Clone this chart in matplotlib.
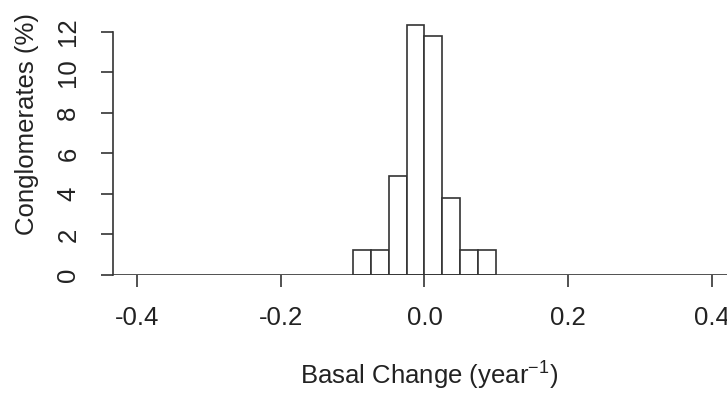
import matplotlib
matplotlib.use("Agg")
import matplotlib.pyplot as plt
import numpy as np

# histogram bins (edges) and heights in percent
bin_edges = [-0.1, -0.075, -0.05, -0.025, 0.0, 0.025, 0.05, 0.075, 0.1]
percent = [1.23, 1.23, 4.9, 12.35, 11.8, 3.8, 1.23, 1.23]

x_ticks = [-0.4, -0.2, 0.0, 0.2, 0.4]
x_ticklabels = ["-0.4", "-0.2", "0.0", "0.2", "0.4"]
y_ticks = [0, 2, 4, 6, 8, 10, 12]

plt.rcParams["font.family"] = ["Liberation Sans", "DejaVu Sans"]
plt.rcParams["font.size"] = 18.5

W, H = 727, 393
fig = plt.figure(figsize=(W / 100, H / 100), dpi=100)
ax = fig.add_axes([113 / W, (H - 275) / H, 1 - 113 / W, (275 - 20) / H])

col = "#333333"
txt = "#222222"
widths = np.diff(bin_edges)
ax.bar(bin_edges[:-1], percent, width=widths, align="edge",
       facecolor="white", edgecolor=col, linewidth=1.2, zorder=3)
ax.axhline(0, color=col, linewidth=1.2, zorder=4)

ax.set_xlim((113 - 424.5) / 719, (727 - 424.5) / 719)
ax.set_ylim(0, (275 - 20) / 20.27)

for s in ["top", "right", "bottom"]:
    ax.spines[s].set_visible(False)
ax.spines["left"].set_bounds(0, 12)
ax.spines["left"].set_color(col)
ax.spines["left"].set_linewidth(1.2)

ax.set_xticks(x_ticks)
ax.set_xticklabels(x_ticklabels)
ax.set_yticks(y_ticks)
ax.set_yticklabels([str(v) for v in y_ticks], rotation=90, va="center")
ax.tick_params(axis="both", direction="out", length=8.5, width=1.2,
               color=col, labelcolor=txt)
ax.tick_params(axis="x", pad=14)
ax.tick_params(axis="y", pad=15)

fig.text(429 / W, 1 - 384 / H, "Basal Change (year$^{\\mathregular{-1}}$)",
         ha="center", va="baseline", color=txt)
fig.text(27 / W, 1 - 124 / H, "Conglomerates (%)", rotation=90,
         ha="center", va="center", color=txt)

fig.savefig("out.png", dpi=100)
